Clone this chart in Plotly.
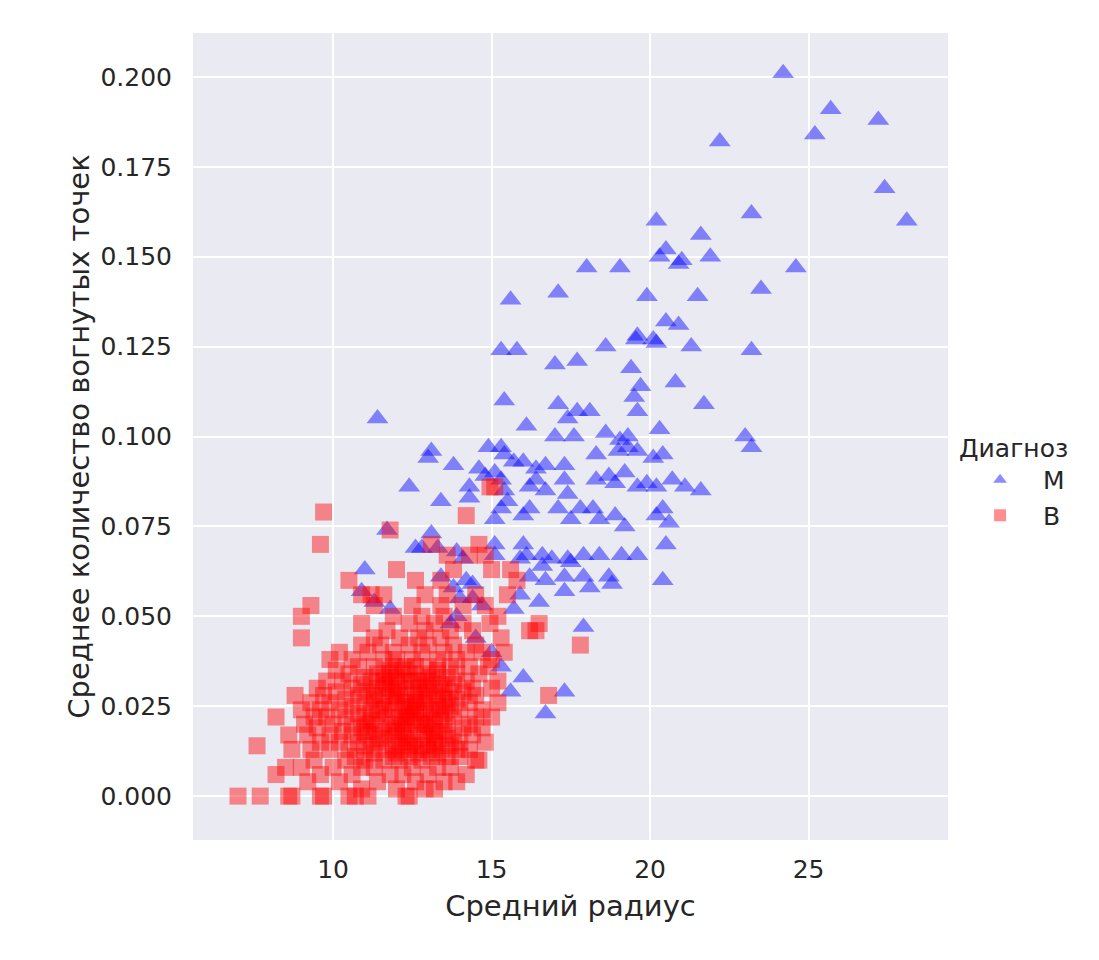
import plotly.graph_objects as go

# Malignant (M): mean radius / mean concave points
m_radius = [
    24.2, 25.7, 25.2, 27.2, 27.4, 28.1, 22.2, 23.2, 20.2, 20.5, 20.3, 21.6, 20.9, 21.0,
    21.9, 18.0, 19.05, 24.6, 17.1, 21.5, 23.5, 15.6, 19.9, 20.5, 20.9, 19.6, 19.55, 20.2,
    20.1, 21.3, 18.6, 23.2, 15.3, 15.8, 17.7, 17.0, 19.4, 19.7, 20.8, 11.4, 15.4, 17.1,
    19.5, 21.7, 17.4, 18.1, 17.7, 19.6, 16.1, 17.6, 17.0, 18.6, 19.05, 19.3, 23.0, 23.2,
    20.3, 13.1, 13.0, 14.9, 15.3, 15.4, 15.7, 18.3, 19.0, 19.3, 19.6, 20.1, 20.4, 13.8,
    16.0, 16.7, 16.4, 17.3, 14.6, 15.1, 14.8, 15.3, 12.4, 13.4, 14.3, 14.3, 15.4, 15.5,
    16.2, 16.4, 17.3, 18.3, 18.7, 18.9, 19.2, 19.6, 19.9, 20.2, 20.7, 21.1, 21.6, 16.7,
    17.4, 17.8, 18.2, 17.1, 16.0, 16.2, 18.4, 18.9, 19.2, 20.2, 20.4, 20.6, 11.7, 13.1,
    15.1, 15.3, 17.5, 12.6, 12.8, 13.3, 13.9, 14.1, 15.1, 15.1, 16.0, 15.9, 16.1, 16.6,
    16.9, 17.4, 17.9, 18.4, 19.1, 19.6, 20.5, 16.6, 17.5, 16.2, 16.7, 17.3, 17.9, 18.7,
    18.8, 20.4, 18.1, 17.3, 16.5, 15.9, 15.7, 14.7, 14.4, 11.8, 11.0, 10.9, 11.3, 13.4,
    13.8, 14.0, 14.2, 14.4, 17.9, 13.9, 15.0, 15.3, 15.6, 16.0, 16.7, 17.3, 14.5, 13.7,
]
m_concave = [
    0.201, 0.191, 0.184, 0.188, 0.169, 0.160, 0.182, 0.162, 0.160, 0.152, 0.150, 0.156, 0.148, 0.149,
    0.150, 0.147, 0.147, 0.147, 0.140, 0.139, 0.141, 0.138, 0.139, 0.132, 0.131, 0.128, 0.127, 0.126,
    0.127, 0.125, 0.125, 0.124, 0.124, 0.124, 0.121, 0.120, 0.119, 0.114, 0.115, 0.105, 0.110, 0.109,
    0.111, 0.109, 0.105, 0.107, 0.107, 0.107, 0.103, 0.100, 0.100, 0.101, 0.099, 0.100, 0.100, 0.097,
    0.102, 0.096, 0.094, 0.097, 0.097, 0.095, 0.093, 0.095, 0.096, 0.097, 0.096, 0.094, 0.095, 0.092,
    0.093, 0.092, 0.091, 0.092, 0.091, 0.090, 0.089, 0.088, 0.086, 0.082, 0.086, 0.083, 0.085, 0.082,
    0.086, 0.088, 0.088, 0.088, 0.089, 0.087, 0.090, 0.086, 0.087, 0.086, 0.088, 0.086, 0.085, 0.085,
    0.084, 0.080, 0.080, 0.080, 0.078, 0.080, 0.077, 0.078, 0.075, 0.078, 0.080, 0.076, 0.074, 0.073,
    0.077, 0.080, 0.077, 0.069, 0.069, 0.069, 0.068, 0.066, 0.070, 0.067, 0.070, 0.066, 0.067, 0.067,
    0.066, 0.066, 0.067, 0.067, 0.067, 0.067, 0.070, 0.064, 0.065, 0.061, 0.060, 0.061, 0.061, 0.061,
    0.059, 0.060, 0.058, 0.057, 0.054, 0.056, 0.052, 0.053, 0.055, 0.052, 0.063, 0.057, 0.054, 0.061,
    0.058, 0.055, 0.060, 0.059, 0.047, 0.050, 0.040, 0.036, 0.029, 0.033, 0.023, 0.029, 0.044, 0.048,
]

# Benign (B): rows of mean concave points -> mean radius values in that row
b_rows = {
    0.000: [7.0, 7.7, 8.6, 8.7, 9.6, 9.7, 10.5, 10.7, 11.1, 12.3, 12.4],
    0.002: [10.9, 12.0, 12.9, 13.2],
    0.004: [9.2, 10.2, 11.4, 12.6, 13.5, 13.9],
    0.006: [8.2, 9.6, 10.6, 11.8, 12.2, 13.0, 14.2],
    0.008: [8.5, 9.0, 10.0, 10.9, 11.3, 12.5, 13.3, 13.7],
    0.010: [9.4, 10.4, 11.0, 11.6, 12.1, 12.8, 14.5, 14.6],
    0.011: [10.7, 11.9, 12.4, 13.1, 13.6, 14.0],
    0.012: [11.3, 12.0, 12.7, 13.3],
    0.013: [8.7, 9.3, 9.9, 10.5, 11.2, 11.7, 12.2, 12.6, 13.0, 13.4, 13.9, 14.3],
    0.014: [7.6, 11.0, 11.9, 12.4, 12.8, 13.2, 13.7],
    0.015: [9.6, 10.2, 10.8, 11.4, 12.1, 12.5, 13.2, 14.0, 14.8],
    0.016: [11.5, 12.3, 13.0, 13.6],
    0.017: [8.6, 9.2, 9.9, 10.6, 11.1, 11.6, 12.0, 12.4, 12.9, 13.3, 13.8, 14.4],
    0.018: [10.3, 11.0, 11.3, 11.9, 12.2, 12.7, 13.2, 13.5],
    0.019: [9.5, 10.9, 11.8, 13.1, 14.1, 14.7],
    0.020: [9.1, 10.0, 10.6, 11.1, 11.5, 12.0, 12.2, 12.5, 12.9, 13.0, 13.6, 14.3],
    0.021: [11.2, 12.3, 12.8, 13.4],
    0.022: [8.2, 9.4, 9.8, 10.4, 11.0, 11.7, 12.1, 12.3, 12.6, 13.2, 13.8, 14.5, 15.0],
    0.023: [10.8, 11.4, 12.4, 12.9, 13.5],
    0.024: [9.0, 9.6, 10.2, 11.2, 11.6, 11.9, 12.4, 12.7, 13.1, 13.4, 14.0, 14.7],
    0.025: [10.6, 11.5, 12.2, 12.5, 13.3, 13.7],
    0.026: [9.3, 9.9, 11.0, 11.8, 12.3, 12.6, 12.9, 13.6, 14.3, 15.2],
    0.027: [10.4, 11.3, 12.0, 12.6, 13.0, 13.5, 13.9],
    0.028: [8.8, 9.7, 10.8, 11.3, 11.6, 12.0, 12.3, 12.8, 13.3, 14.5, 16.8],
    0.029: [10.1, 11.1, 11.9, 12.7, 13.2, 13.7, 14.1],
    0.030: [9.5, 10.6, 11.4, 11.8, 12.1, 12.5, 13.0, 13.5, 14.4, 15.0],
    0.031: [10.9, 11.7, 12.9, 13.4, 13.8],
    0.032: [9.8, 10.3, 11.2, 11.6, 12.0, 12.3, 12.5, 12.7, 13.0, 14.2, 15.2],
    0.033: [11.0, 11.6, 12.0, 13.1, 13.6],
    0.034: [10.5, 11.4, 11.8, 12.4, 12.8, 13.3, 13.9, 14.6],
    0.035: [10.1, 11.8, 12.2, 13.3],
    0.036: [10.8, 11.3, 11.9, 12.3, 12.6, 13.0, 13.7, 14.3, 14.9],
    0.038: [9.9, 10.6, 11.6, 12.0, 12.5, 13.3, 13.9, 15.0],
    0.040: [10.2, 11.1, 11.9, 12.8, 13.5, 14.2, 14.7, 15.4],
    0.042: [10.9, 11.5, 12.4, 13.0, 13.8, 14.5, 17.8],
    0.044: [9.0, 11.3, 12.1, 12.7, 13.4, 15.3],
    0.046: [11.7, 12.9, 13.7, 14.4, 16.2, 16.4],
    0.048: [10.9, 12.4, 13.2, 14.1, 14.95, 16.5],
    0.050: [9.0, 11.9, 12.8, 13.5, 15.2],
    0.053: [9.3, 11.3, 12.5, 13.4, 14.1, 14.8],
    0.056: [10.9, 11.2, 11.6, 12.9, 13.6, 14.5, 15.5],
    0.060: [10.5, 12.6, 13.4, 15.8],
    0.063: [12.0, 13.8, 15.0, 15.6],
    0.067: [13.6, 14.3, 14.8],
    0.070: [9.6, 13.1, 14.6],
    0.074: [11.8],
    0.078: [14.2],
    0.079: [9.7],
    0.086: [14.95, 15.1],
}
b_radius = [x for y, xs in b_rows.items() for x in xs]
b_concave = [y for y, xs in b_rows.items() for x in xs]

y_ticks = [0.0, 0.025, 0.05, 0.075, 0.1, 0.125, 0.15, 0.175, 0.2]
x_ticks = [10, 15, 20, 25]

fig = go.Figure()
fig.add_trace(go.Scatter(
    x=m_radius, y=m_concave, mode="markers", name="M",
    marker=dict(symbol="triangle-up", size=19, color="rgba(0,0,255,0.45)", line=dict(width=0)),
))
fig.add_trace(go.Scatter(
    x=b_radius, y=b_concave, mode="markers", name="B",
    marker=dict(symbol="square", size=17, color="rgba(255,0,0,0.44)", line=dict(width=0)),
))

font = "DejaVu Sans, Liberation Sans, sans-serif"
fig.update_layout(
    width=1099, height=960,
    margin=dict(l=185, r=159, t=25, b=128),
    paper_bgcolor="white", plot_bgcolor="#eaeaf2",
    font=dict(family=font, size=25, color="#262626"),
    legend=dict(
        title=dict(text="Диагноз", font=dict(size=25)),
        x=1.012, xanchor="left", y=0.515, yanchor="top",
        font=dict(size=25), bgcolor="rgba(0,0,0,0)",
        itemsizing="constant", itemwidth=76,
    ),
)
fig.update_xaxes(
    range=[5.58, 29.4], tickvals=x_ticks, showgrid=True, gridcolor="white", gridwidth=2,
    zeroline=False, showline=False, ticks="", ticklabelstandoff=12,
    tickfont=dict(size=25), title=dict(text="Средний радиус", font=dict(size=29), standoff=12),
)
fig.update_yaxes(
    range=[-0.0122, 0.2122], tickvals=y_ticks, tickformat=".3f", showgrid=True,
    gridcolor="white", gridwidth=2, zeroline=False, showline=False, ticks="",
    ticklabelstandoff=20, tickfont=dict(size=25),
    title=dict(text="Среднее количество вогнутых точек", font=dict(size=29), standoff=2),
)

fig.write_html("out.html")
